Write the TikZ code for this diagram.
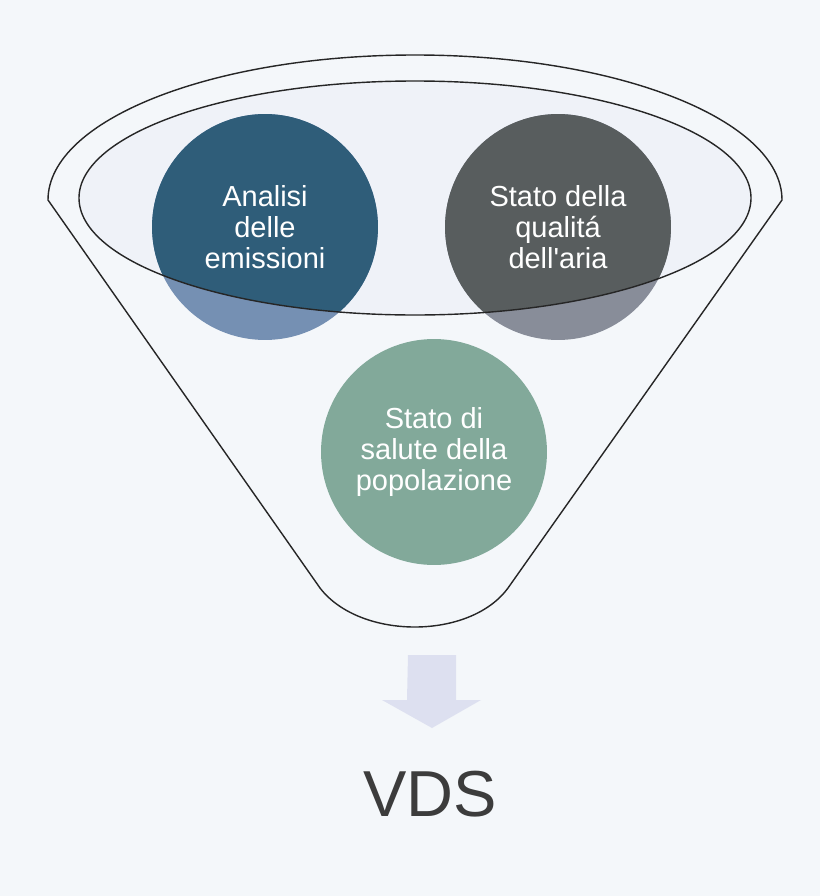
\documentclass[tikz,border=0pt]{standalone}
\usepackage{fontspec}
\setmainfont{Liberation Sans}
\usetikzlibrary{positioning}
\definecolor{paper}{HTML}{F4F7FA}
\definecolor{rim}{HTML}{EFF2F8}
\definecolor{emisHi}{HTML}{2F5D79}
\definecolor{emisLo}{HTML}{7590B3}
\definecolor{ariaHi}{HTML}{585D5E}
\definecolor{ariaLo}{HTML}{888D99}
\definecolor{salute}{HTML}{82A99A}
\definecolor{chute}{HTML}{DDE0F0}
\definecolor{ink}{HTML}{3C3C3C}
\begin{document}
\begin{tikzpicture}[
  x=0.02cm, y=-0.02cm,
  funnel/.style={draw=black!85, line width=0.8pt},
  bubble/.style={circle, minimum size=4.52cm, inner sep=0pt, align=center, text=white,
    font=\fontsize{16.5}{17.5}\selectfont},
  lens/.style={path picture={\fill[#1] (mouth) ellipse[x radius=336, y radius=117];}}
]
\useasboundingbox[fill=paper] (0,0) rectangle (820,896);
\coordinate (mouth) at (415,198);

% funnel body and mouth
\draw[funnel, fill=paper] (48,200) .. controls (48,120) and (212,55) .. (415,55)
  .. controls (618,55) and (782,120) .. (782,200) -- (508,588)
  .. controls (470,640) and (360,640) .. (320,588) -- cycle;
\fill[rim] (mouth) ellipse[x radius=336, y radius=117];

% the three sources
\node[bubble, fill=emisLo, lens=emisHi] (emis) at (265,227) {Analisi\\delle\\emissioni};
\node[bubble, fill=ariaLo, lens=ariaHi] (aria) at (558,227) {Stato della\\qualitá\\dell\textquotesingle aria};
\node[bubble, fill=salute] (pop) at (434,452) {Stato di\\salute della\\popolazione};
\draw[funnel] (mouth) ellipse[x radius=336, y radius=117];

% outcome
\node[text=ink, font=\fontsize{37}{40}\selectfont] (vds) at (430,794) {VDS};
\coordinate (chute) at (432,655);
\fill[chute] (chute) ++(-24,0) -- ++(48,0) -- ++(0,45) -- ++(25,0)
  -- (chute |- 0,728) -- ++(-50,-28) -- ++(25,0) -- cycle;
\end{tikzpicture}
\end{document}
